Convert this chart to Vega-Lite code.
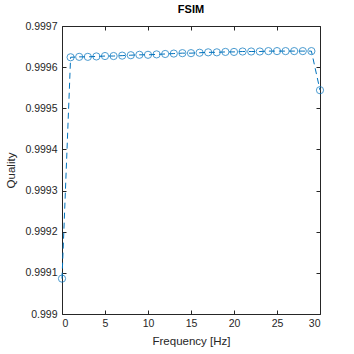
{
  "$schema": "https://vega.github.io/schema/vega-lite/v6.json",
  "width": 258,
  "height": 288,
  "autosize": {"type": "none"},
  "padding": {"left": 62, "top": 26, "right": 34, "bottom": 40},
  "background": "white",
  "title": {"text": "FSIM", "font": "Liberation Sans", "fontSize": 11, "fontWeight": "bold", "color": "black", "offset": 6},
  "config": {
    "view": {"stroke": "#262626", "strokeWidth": 1},
    "axis": {"grid": false, "domain": false, "labelFont": "Liberation Sans", "titleFont": "Liberation Sans", "labelFontSize": 10.5, "titleFontSize": 11.5, "labelColor": "#262626", "titleColor": "#262626", "titleFontWeight": "normal", "tickColor": "#262626", "tickSize": -4, "labelPadding": 9}
  },
  "data": {"values": [
    {"f": 0, "q": 0.999086},
    {"f": 1, "q": 0.999624},
    {"f": 2, "q": 0.999625},
    {"f": 3, "q": 0.999625},
    {"f": 4, "q": 0.999626},
    {"f": 5, "q": 0.999627},
    {"f": 6, "q": 0.999627},
    {"f": 7, "q": 0.999628},
    {"f": 8, "q": 0.999629},
    {"f": 9, "q": 0.99963},
    {"f": 10, "q": 0.99963},
    {"f": 11, "q": 0.999631},
    {"f": 12, "q": 0.999632},
    {"f": 13, "q": 0.999633},
    {"f": 14, "q": 0.999634},
    {"f": 15, "q": 0.999634},
    {"f": 16, "q": 0.999635},
    {"f": 17, "q": 0.999636},
    {"f": 18, "q": 0.999636},
    {"f": 19, "q": 0.999637},
    {"f": 20, "q": 0.999637},
    {"f": 21, "q": 0.999638},
    {"f": 22, "q": 0.999638},
    {"f": 23, "q": 0.999638},
    {"f": 24, "q": 0.999639},
    {"f": 25, "q": 0.999639},
    {"f": 26, "q": 0.999639},
    {"f": 27, "q": 0.999639},
    {"f": 28, "q": 0.999639},
    {"f": 29, "q": 0.999639},
    {"f": 30, "q": 0.999544}
  ]},
  "layer": [
    {
      "mark": {"type": "line", "color": "#0072BD", "strokeWidth": 1, "strokeDash": [6, 4]},
      "encoding": {
        "x": {"field": "f", "type": "quantitative", "scale": {"domain": [0, 30]}, "axis": {"title": "Frequency [Hz]", "values": [0, 5, 10, 15, 20, 25, 30], "labelPadding": 8, "titlePadding": 7}},
        "y": {"field": "q", "type": "quantitative", "scale": {"domain": [0.999, 0.9997], "zero": false}, "axis": {"title": "Quality", "values": [0.999, 0.9991, 0.9992, 0.9993, 0.9994, 0.9995, 0.9996, 0.9997], "format": ".4~f", "titlePadding": 8}}
      }
    },
    {
      "mark": {"type": "point", "shape": "circle", "filled": false, "color": "#0072BD", "size": 52, "strokeWidth": 1},
      "encoding": {
        "x": {"field": "f", "type": "quantitative", "axis": {"orient": "top", "labels": false, "title": null, "values": [0, 5, 10, 15, 20, 25, 30]}},
        "y": {"field": "q", "type": "quantitative", "axis": {"orient": "right", "labels": false, "title": null, "values": [0.999, 0.9991, 0.9992, 0.9993, 0.9994, 0.9995, 0.9996, 0.9997]}}
      }
    }
  ],
  "resolve": {"axis": {"x": "independent", "y": "independent"}}
}
